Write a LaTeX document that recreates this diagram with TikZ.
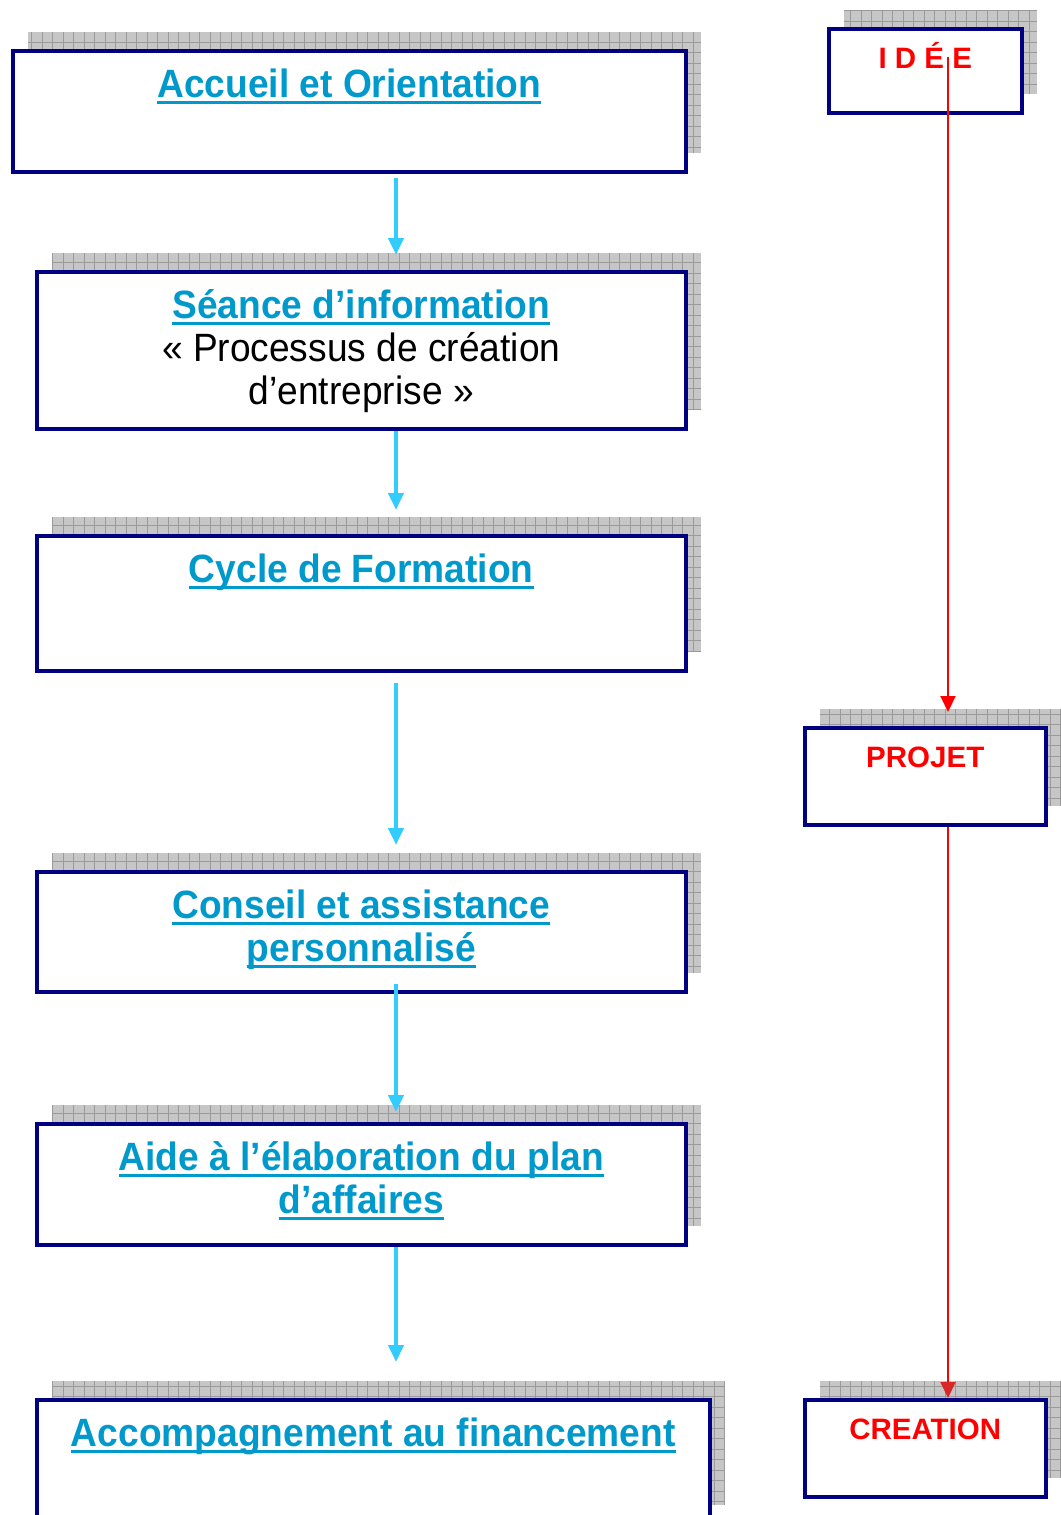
\documentclass[tikz,border=0pt]{standalone}
\usepackage{fontspec}
\setmainfont{Liberation Sans}
\newfontfamily\etroite[FakeStretch=0.94]{Liberation Sans}
\usepackage{xcolor}
\usetikzlibrary{positioning,calc,arrows.meta}

\definecolor{marine}{HTML}{000080}
\definecolor{titrebleu}{HTML}{0099CC}
\definecolor{flechebleu}{HTML}{33CCFF}
\definecolor{ombregris}{HTML}{C6C6C6}
\definecolor{grillegris}{HTML}{9A9A9A}

\newcommand{\souligne}[1]{\setbox0\hbox{#1}\rlap{\color{titrebleu}\rule[-7pt]{\wd0}{3pt}}\box0}

\tikzset{
  boite/.style={draw=marine, line width=3.5pt, fill=white, anchor=north west, inner sep=0pt},
  titre/.style={anchor=base, align=center, text=titrebleu,
    font=\etroite\bfseries\fontsize{39.5}{43}\selectfont},
  etape/.style={anchor=base, text=red, font=\bfseries\fontsize{29.5}{33}\selectfont},
  fleche/.style={draw=flechebleu, line width=4.5pt, -{Triangle[width=15pt,length=17pt]}},
  trait/.style={draw=red, line width=2pt, -{Triangle[width=15pt,length=16pt]}},
}

\begin{document}
\begin{tikzpicture}[x=1pt,y=-1pt]
        \useasboundingbox (0,0) rectangle (1060,1515);
        % boites avec ombre quadrillee
        \foreach \nom/\x/\y/\w/\h in {accueil/11/49/673/121, seance/35/270/649/157,
            cycle/35/534/649/135, conseil/35/870/649/120, aide/35/1122/649/121,
            accomp/35/1398/673/124, idee/827/27/193/84, projet/803/726/241/97,
            creation/803/1398/241/97} {
            \begin{scope}
                \clip (\x+17,\y-17) rectangle (\x+\w+17,\y+\h-17);
                \fill[ombregris] (\x+17,\y-17) rectangle (\x+\w+17,\y+\h-17);
                \draw[grillegris, line width=0.8pt, step=10.5pt] (\x+17,\y-17) grid (\x+\w+17,\y+\h-17);
            \end{scope}
            \node[boite, minimum width=\w, minimum height=\h] (\nom) at (\x,\y) {};
        }

        % textes (la base d'un texte sur plusieurs lignes est sa derniere ligne)
        \node[titre] (t-accueil) at ([yshift=-48pt]accueil.north) {\souligne{Accueil et Orientation}};
        \node[titre] (t-seance) at ([yshift=-134pt]seance.north) {\souligne{Séance d’information}\\
            {\mdseries\color{black}« Processus de création}\\ {\mdseries\color{black}d’entreprise »}};
        \node[titre] (t-cycle) at ([yshift=-48pt]cycle.north) {\souligne{Cycle de Formation}};
        \node[titre] (t-conseil) at ([yshift=-91pt]conseil.north) {\souligne{Conseil et assistance}\\ \souligne{personnalisé}};
        \node[titre] (t-aide) at ([yshift=-91pt]aide.north) {\souligne{Aide à l’élaboration du plan}\\ \souligne{d’affaires}};
        \node[titre] (t-accomp) at ([yshift=-48pt]accomp.north) {\souligne{Accompagnement au financement}};
        \node[etape] (t-idee) at ([yshift=-41pt]idee.north) {I D É E};
        \node[etape] (t-projet) at ([yshift=-41pt]projet.north) {PROJET};
        \node[etape] (t-creation) at ([yshift=-41pt]creation.north) {CREATION};

        % fleches
        \coordinate (axe) at (396,0);
        \draw[fleche, shorten <=4pt, shorten >=15pt] (accueil.south -| axe) -- (seance.north -| axe);
        \draw[fleche, shorten >=24pt] (seance.south -| axe) -- (cycle.north -| axe);
        \draw[fleche, shorten <=10pt, shorten >=25pt] (cycle.south -| axe) -- (conseil.north -| axe);
        \draw[fleche, shorten <=-10pt, shorten >=10pt] (conseil.south -| axe) -- (aide.north -| axe);
        \draw[fleche, shorten >=36pt] (aide.south -| axe) -- (accomp.north -| axe);

        \coordinate (rouge) at (948,57);
        \draw[trait, shorten >=14pt] (rouge) -- (projet.north -| rouge);
        \draw[draw=red, line width=2pt, -{Triangle[width=15pt,length=16pt,color=red!70!gray]}]
            (projet.south -| rouge) -- (creation.north -| rouge);
    \end{tikzpicture}
\end{document}
